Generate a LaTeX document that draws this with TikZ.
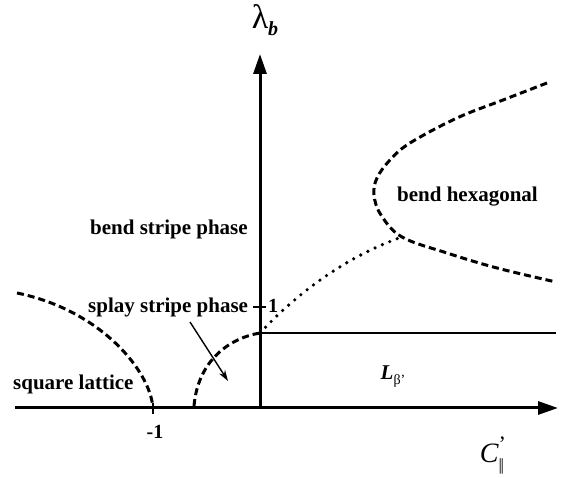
\documentclass[tikz,border=0pt]{standalone}
\usepackage{fontspec}
\setmainfont{Liberation Serif}
\usetikzlibrary{arrows.meta}
\begin{document}
\begin{tikzpicture}[x=1pt,y=-1pt,
  axis/.style={line width=3pt,-{Triangle[length=20pt,width=13pt]}},
  solidline/.style={line width=2.8pt},
  phaseb/.style={line width=3pt,dash pattern=on 7pt off 4pt},
  phased/.style={line width=3.6pt,line cap=round,dash pattern=on 0pt off 8pt},
  lbl/.style={font=\fontsize{21}{21}\selectfont\bfseries,inner sep=0pt,anchor=base west},
  num/.style={font=\fontsize{20}{20}\selectfont\bfseries,inner sep=0pt}]
\useasboundingbox (0,0) rectangle (563,478);
% coordinates
\coordinate (O) at (260,408);
\coordinate (xl) at (15,408);
\coordinate (xr) at (558,408);
\coordinate (yt) at (260,54);
\coordinate (A) at (260,333);
\coordinate (Ar) at (556,333);
\coordinate (P) at (402,237);
\coordinate (m1) at (153,408);
% axes
\draw[axis] (xl) -- (xr);
\draw[axis] (O) -- (yt);
\draw[solidline] (A) -- (Ar);
% ticks
\draw[line width=1.6pt] (253,307) -- (266,307);
\draw[line width=1.6pt] (153,403) -- (153,414);
% curves
\draw[phaseb] (17,293) .. controls (100,310) and (150,370) .. (m1);
\draw[phaseb] (194,406) .. controls (198,360) and (230,338) .. (A);
\draw[phased] (A) .. controls (300,290) and (350,255) .. (P);
\draw[phaseb] plot[smooth,tension=0.6] coordinates {(547,83) (503,100) (457,118) (410,143) (390,160) (377,178) (374,195) (381,215) (P) (447,253) (497,268) (556,282)};
% labels
\node[lbl] (bh) at (397,202) {bend hexagonal};
\node[lbl] (bs) at (90,235) {bend stripe phase};
\node[lbl] (ss) at (88,313) {splay stripe phase};
\node[lbl] (sq) at (13,390) {square lattice};
\node[num] (one) at (273,306) {1};
\node[num] (mone) at (155,432) {-1};
\node[inner sep=0pt] (lb) at (393,377) {{\fontsize{21}{21}\selectfont\bfseries\itshape L}\raisebox{-5pt}{\fontsize{14}{14}\selectfont β’}};
\node[inner sep=0pt] (lam) at (265,20) {{\fontsize{34}{34}\selectfont λ}\raisebox{-7pt}{\fontsize{20}{20}\selectfont\bfseries\itshape b}};
\node[inner sep=0pt] (cp) at (492,456) {{\fontsize{28}{28}\selectfont\itshape C}\rlap{\raisebox{11pt}{\fontsize{22}{22}\selectfont ’}}\raisebox{-8pt}{\fontsize{17}{17}\selectfont |\kern-0.08em|}};
% arrow
\coordinate (sa) at (190,322);
\coordinate (se) at (228,381);
\draw[line width=1.4pt,-{Stealth[length=11pt,width=7pt]}] (sa) -- (se);
\end{tikzpicture}
\end{document}
